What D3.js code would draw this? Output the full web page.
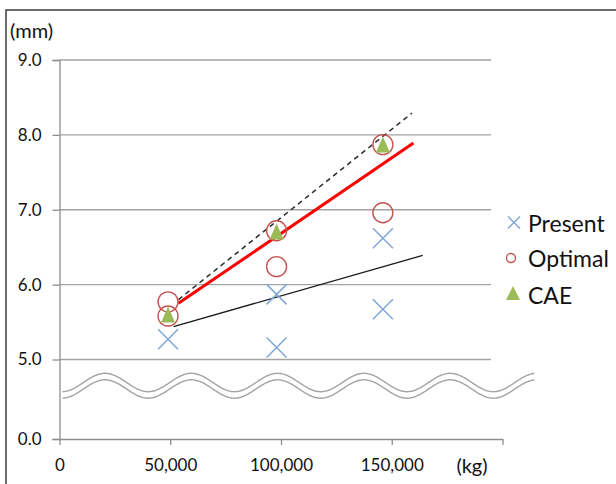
<!DOCTYPE html>
<html>
<head>
<meta charset="utf-8">
<script src="https://cdn.jsdelivr.net/npm/d3@7"></script>
<style>
  html, body { margin: 0; padding: 0; background: #fff; }
  svg { display: block; }
  text { font-family: Lato, "Open Sans", sans-serif; fill: #111; }
</style>
</head>
<body>
<script>
// Displacement (mm) against weight (kg) for three methods
const presentKg = [49000, 98000, 98000, 146000, 146000];
const presentMm = [5.27, 5.87, 5.16, 6.62, 5.67];

const optimalKg = [49000, 49000, 98000, 98000, 146000, 146000];
const optimalMm = [5.77, 5.58, 6.72, 6.24, 7.87, 6.96];

const caeKg = [49000, 98000, 146000];
const caeMm = [5.60, 6.71, 7.87];

// Fitted trend lines (start and end points)
const presentFitKg = [51500, 164000];
const presentFitMm = [5.44, 6.39];
const optimalFitKg = [53700, 159800];
const optimalFitMm = [5.75, 7.89];
const caeFitKg = [53700, 159100];
const caeFitMm = [5.80, 8.29];

const xTicks = [0, 50000, 100000, 150000, 200000];
const xTickLabels = ["0", "50,000", "100,000", "150,000", ""];
const yTicks = [0, 5, 6, 7, 8, 9];
const yGrid = [5, 6, 7, 8, 9];

const legendNames = ["Present", "Optimal", "CAE"];

const W = 616, H = 484;
const svg = d3.select("body").append("svg").attr("width", W).attr("height", H);

// outer chart frame
svg.append("rect")
  .attr("x", 6).attr("y", 10).attr("width", 700).attr("height", 600)
  .attr("fill", "#fff").attr("stroke", "#3c3c3c").attr("stroke-width", 1.5);

// x: linear weight axis; y: broken axis between 0 and 5
const x = d3.scaleLinear().domain([0, 200000]).range([59.5, 502.5]);
const y = d3.scaleLinear().domain([0, 5, 9]).range([439, 359.5, 60]);

// horizontal gridlines
svg.append("g").selectAll("line").data(yGrid).join("line")
  .attr("x1", x(0)).attr("x2", 491)
  .attr("y1", d => y(d)).attr("y2", d => y(d))
  .attr("stroke", "#a3a3a3").attr("stroke-width", 1.3);

// y axis
const yAxis = d3.axisLeft(y).tickValues(yTicks).tickSize(7).tickPadding(11)
  .tickFormat(d3.format(".1f"));
const gy = svg.append("g").attr("transform", `translate(${x(0)},0)`).call(yAxis);
gy.select(".domain").attr("stroke", "#8e8e8e").attr("stroke-width", 1.3);
gy.selectAll(".tick line").attr("stroke", "#8e8e8e").attr("stroke-width", 1.3);
gy.selectAll(".tick text").attr("font-size", 17).attr("font-family", "Lato").attr("fill", "#111");

// x axis
const xAxis = d3.axisBottom(x).tickValues(xTicks).tickSize(6).tickSizeOuter(0).tickPadding(14)
  .tickFormat((d, i) => xTickLabels[i]);
const gx = svg.append("g").attr("transform", `translate(0,${y(0)})`).call(xAxis);
gx.select(".domain").attr("stroke", "#8e8e8e").attr("stroke-width", 1.3);
gx.selectAll(".tick line").attr("stroke", "#8e8e8e").attr("stroke-width", 1.3);
gx.selectAll(".tick text").attr("font-size", 17).attr("font-family", "Lato").attr("fill", "#111");

// axis units
svg.append("text").attr("x", 10).attr("y", 38).attr("font-size", 20).text("(mm)");
svg.append("text").attr("x", 472).attr("y", 473).attr("text-anchor", "middle")
  .attr("font-size", 20).text("(kg)");

// axis break: two parallel wavy lines
const waveX = d3.range(62.5, 535.5, 1);
const wave = off => d3.line()
  .x(d => d)
  .y(d => 382.5 + off - 9.2 * Math.cos(2 * Math.PI * (d - 105) / 86.3))
  .curve(d3.curveBasis)(waveX);
svg.append("path").attr("d", wave(0)).attr("fill", "none")
  .attr("stroke", "#a3a3a3").attr("stroke-width", 1.4);
svg.append("path").attr("d", wave(6.5)).attr("fill", "none")
  .attr("stroke", "#a3a3a3").attr("stroke-width", 1.4);

// trend lines
const fit = (kg, mm) => d3.line().x(d => x(d[0])).y(d => y(d[1]))(d3.zip(kg, mm));
svg.append("path").attr("d", fit(presentFitKg, presentFitMm))
  .attr("fill", "none").attr("stroke", "#1a1a1a").attr("stroke-width", 1.3);
svg.append("path").attr("d", fit(caeFitKg, caeFitMm))
  .attr("fill", "none").attr("stroke", "#2a2a2a").attr("stroke-width", 1.5)
  .attr("stroke-dasharray", "5,4");
svg.append("path").attr("d", fit(optimalFitKg, optimalFitMm))
  .attr("fill", "none").attr("stroke", "#ff0000").attr("stroke-width", 3);

// markers
const blue = "#7fa6d8", red = "#c55452", green = "#9bbb59";
const cross = (g, cx, cy, r) => g.append("path")
  .attr("d", `M${cx - r},${cy - r}L${cx + r},${cy + r}M${cx - r},${cy + r}L${cx + r},${cy - r}`)
  .attr("stroke", blue).attr("stroke-width", 1.5).attr("fill", "none");
const tri = (g, cx, cy, w, h) => g.append("path")
  .attr("d", `M${cx},${cy - h / 2}L${cx + w / 2},${cy + h / 2}L${cx - w / 2},${cy + h / 2}Z`)
  .attr("fill", green);

const marks = svg.append("g");
d3.zip(presentKg, presentMm).forEach(([k, m]) => cross(marks, x(k), y(m), 10));
marks.selectAll("circle").data(d3.zip(optimalKg, optimalMm)).join("circle")
  .attr("cx", d => x(d[0])).attr("cy", d => y(d[1])).attr("r", 10)
  .attr("fill", "none").attr("stroke", red).attr("stroke-width", 1.4);
d3.zip(caeKg, caeMm).forEach(([k, m]) => tri(marks, x(k), y(m), 14, 16));

// legend
const lg = svg.append("g");
const rows = [224, 259, 296];
cross(lg, 514, rows[0] - 1.5, 6);
lg.append("circle").attr("cx", 511).attr("cy", rows[1] - 1).attr("r", 4.5)
  .attr("fill", "none").attr("stroke", red).attr("stroke-width", 1.4);
tri(lg, 513, rows[2] - 3, 14, 14);
lg.selectAll("text").data(legendNames).join("text")
  .attr("x", 528).attr("y", (d, i) => rows[i] + 8.3)
  .attr("font-size", 23).text(d => d);
</script>
</body>
</html>
